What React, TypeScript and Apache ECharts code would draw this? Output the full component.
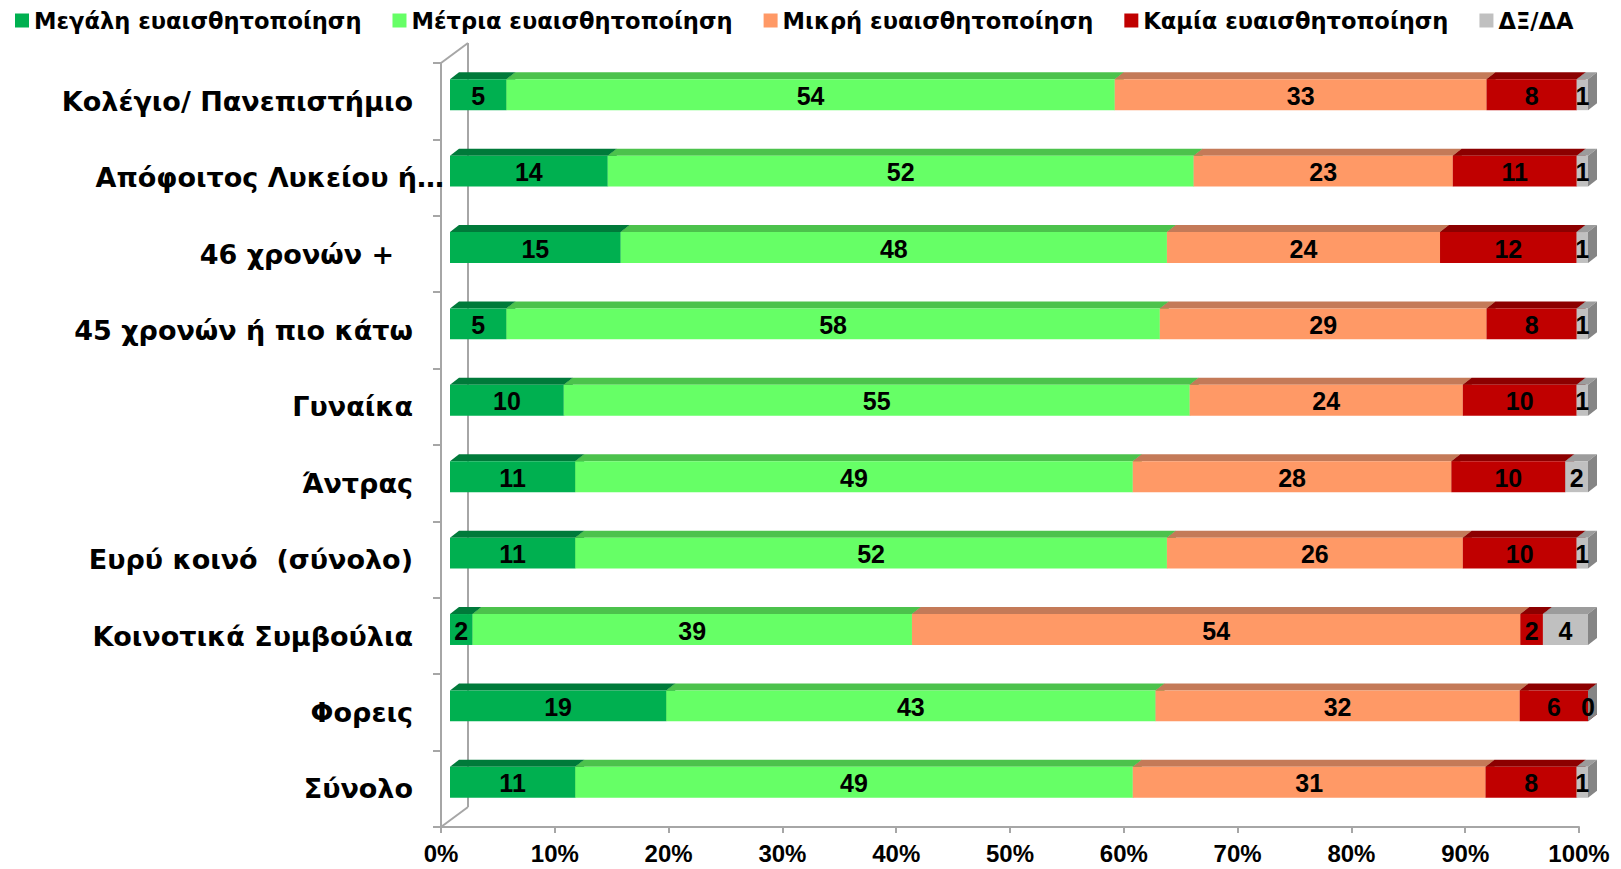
import React, { useEffect, useRef } from "react";
import * as echarts from "echarts";

const categories = [
  "Κολέγιο/ Πανεπιστήμιο",
  "Απόφοιτος Λυκείου ή…",
  "46 χρονών +  ",
  "45 χρονών ή πιο κάτω",
  "Γυναίκα",
  "Άντρας",
  "Ευρύ κοινό  (σύνολο)",
  "Κοινοτικά Συμβούλια",
  "Φορεις",
  "Σύνολο",
];

const seriesNames = [
  "Μεγάλη ευαισθητοποίηση",
  "Μέτρια ευαισθητοποίηση",
  "Μικρή ευαισθητοποίηση",
  "Καμία ευαισθητοποίηση",
  "ΔΞ/ΔΑ",
];

const great = [5, 14, 15, 5, 10, 11, 11, 2, 19, 11];
const medium = [54, 52, 48, 58, 55, 49, 52, 39, 43, 49];
const small = [33, 23, 24, 29, 24, 28, 26, 54, 32, 31];
const none = [8, 11, 12, 8, 10, 10, 10, 2, 6, 8];
const dkna = [1, 1, 1, 1, 1, 2, 1, 4, 0, 1];

const allSeries = [great, medium, small, none, dkna];

const FRONT = ["#00b050", "#66ff66", "#ff9966", "#c00000", "#c0c0c0"];
const TOP = ["#007a3a", "#4cc24c", "#c47a58", "#8c0000", "#9c9c9c"];
const SIDE = ["#006530", "#3fa03f", "#a8644a", "#700000", "#858585"];

const FONT = '"Liberation Sans", Arial, Helvetica, sans-serif';
const WIDE_FONT = '"DejaVu Sans", "Liberation Sans", Arial, sans-serif';

const GL = 441;
const GT = 63;
const GRIGHT = 42;
const GBOT = 42;
const W = 1621;
const H = 869;
const GB = H - GBOT;
const WALL_DX = 27;
const WALL_DY = 20;
const OFF_X = 9;
const OFF_Y = -6.5;
const DX = 9;
const DY = 7;
const AXIS_COLOR = "#a6a6a6";

export default function App() {
  const ref = useRef<HTMLDivElement>(null);

  useEffect(() => {
    if (!ref.current) return;
    const chart = echarts.init(ref.current, undefined, { renderer: "svg" });

    const totals = categories.map((_, ci) =>
      allSeries.reduce((acc, s) => acc + s[ci], 0)
    );

    const series = allSeries.map((vals, si) => {
      const data = categories.map((_, ci) => {
        let cum = 0;
        for (let k = 0; k < si; k++) cum += allSeries[k][ci];
        const start = (cum / totals[ci]) * 100;
        const end = ((cum + vals[ci]) / totals[ci]) * 100;
        return [ci, start, end, vals[ci]];
      });
      return {
        type: "custom",
        name: seriesNames[si],
        itemStyle: { color: FRONT[si] },
        encode: { x: [1, 2], y: 0 },
        data,
        renderItem: (params: any, api: any) => {
          const cat = api.value(0);
          const s = api.value(1);
          const e = api.value(2);
          const v = api.value(3);
          const a = api.coord([s, cat]);
          const b = api.coord([e, cat]);
          const band = api.size([0, 1])[1];
          const h = band * 0.405;
          const x0 = a[0] + OFF_X;
          const x1 = b[0] + OFF_X;
          const yc = a[1] + OFF_Y;
          const t = yc - h / 2;
          const bt = yc + h / 2;
          return {
            type: "group",
            children: [
              {
                type: "polygon",
                shape: {
                  points: [
                    [x0, t],
                    [x0 + DX, t - DY],
                    [x1 + DX, t - DY],
                    [x1, t],
                  ],
                },
                style: { fill: TOP[si] },
              },
              {
                type: "polygon",
                shape: {
                  points: [
                    [x1, t],
                    [x1 + DX, t - DY],
                    [x1 + DX, bt - DY],
                    [x1, bt],
                  ],
                },
                style: { fill: SIDE[si] },
              },
              {
                type: "rect",
                shape: { x: x0, y: t, width: Math.max(0, x1 - x0), height: h },
                style: { fill: FRONT[si] },
              },
              {
                type: "text",
                style: {
                  text: String(v),
                  x: (x0 + x1) / 2,
                  y: yc + 1,
                  align: "center",
                  verticalAlign: "middle",
                  fill: "#000",
                  font: `bold 25px ${FONT}`,
                },
              },
            ],
          };
        },
      };
    });

    const lineStyle = { stroke: AXIS_COLOR, lineWidth: 2 };

    chart.setOption({
      animation: false,
      backgroundColor: "#ffffff",
      legend: {
        left: 15,
        top: 9,
        padding: 0,
        itemWidth: 14,
        itemHeight: 14,
        itemGap: 31,
        icon: "rect",
        data: seriesNames,
        textStyle: {
          fontFamily: WIDE_FONT,
          fontWeight: "bold",
          fontSize: 22.6,
          color: "#000",
        },
      },
      grid: { left: GL, top: GT, right: GRIGHT, bottom: GBOT },
      xAxis: {
        type: "value",
        min: 0,
        max: 100,
        interval: 10,
        axisLine: { show: true, lineStyle: { color: AXIS_COLOR, width: 2 } },
        axisTick: { show: true, length: 6, lineStyle: { color: AXIS_COLOR, width: 2 } },
        splitLine: { show: false },
        axisLabel: {
          formatter: "{value}%",
          fontFamily: FONT,
          fontWeight: "bold",
          fontSize: 24,
          color: "#000",
          margin: 14,
        },
      },
      yAxis: {
        type: "category",
        inverse: true,
        data: categories,
        axisLine: { show: true, lineStyle: { color: AXIS_COLOR, width: 2 } },
        axisTick: { show: true, length: 8, lineStyle: { color: AXIS_COLOR, width: 2 } },
        axisLabel: {
          fontFamily: WIDE_FONT,
          fontWeight: "bold",
          fontSize: 27,
          color: "#000",
          margin: 28,
          formatter: (value: string) =>
            value.endsWith("…") ? `{shift|${value}}` : value,
          rich: {
            shift: {
              fontFamily: WIDE_FONT,
              fontWeight: "bold",
              fontSize: 27,
              color: "#000",
              padding: [0, -31, 0, 0],
            },
          },
        },
      },
      graphic: [
        {
          type: "line",
          shape: { x1: GL + WALL_DX, y1: GT - WALL_DY, x2: GL + WALL_DX, y2: GB - WALL_DY },
          style: lineStyle,
        },
        {
          type: "line",
          shape: { x1: GL, y1: GT, x2: GL + WALL_DX, y2: GT - WALL_DY },
          style: lineStyle,
        },
        {
          type: "line",
          shape: { x1: GL, y1: GB, x2: GL + WALL_DX, y2: GB - WALL_DY },
          style: lineStyle,
        },
      ],
      series,
    });

    return () => chart.dispose();
  }, []);

  return (
    <div
      ref={ref}
      style={{ position: "fixed", left: 0, top: 0, width: W, height: H, background: "#fff" }}
    />
  );
}
